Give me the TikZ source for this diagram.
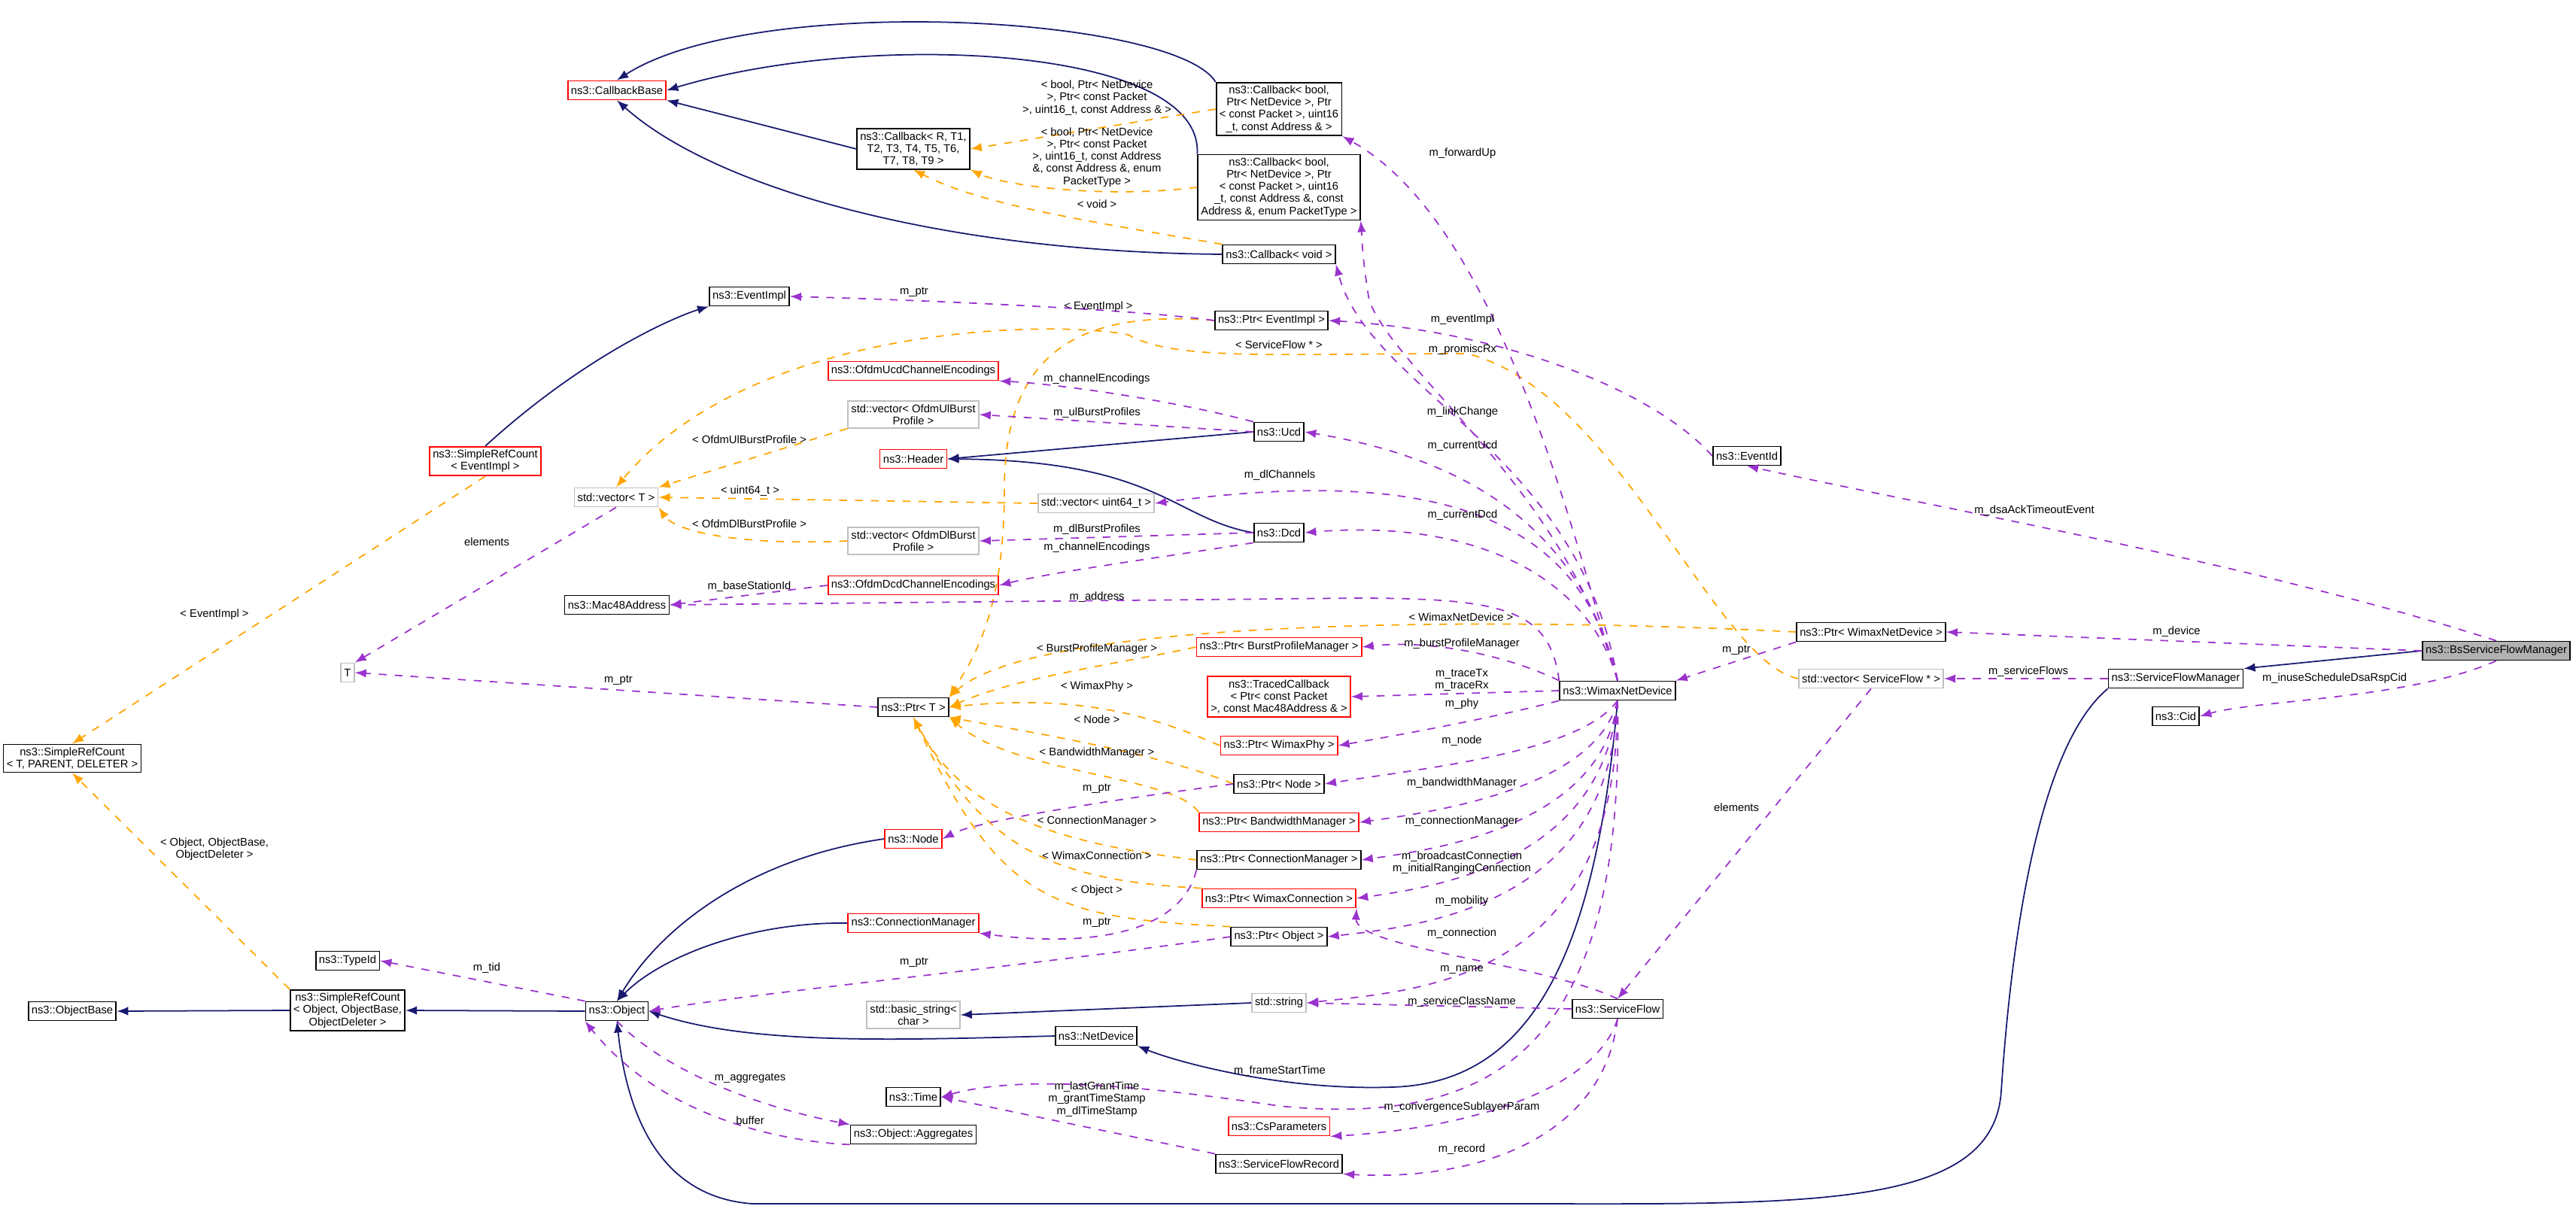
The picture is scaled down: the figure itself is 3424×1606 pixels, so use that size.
\documentclass[tikz,border=0pt]{standalone}
\usepackage{fontspec}
\setmainfont{Liberation Sans}
\usepackage{tikz}
\usetikzlibrary{calc}
\usetikzlibrary{positioning}
\usetikzlibrary{arrows}
\definecolor{inhcol}{RGB}{25,25,112}
\definecolor{usecol}{RGB}{154,50,205}
\definecolor{tplcol}{RGB}{255,165,0}
\tikzset{
  cls/.style={draw=black, fill=white, inner sep=1.2pt, minimum height=2.5mm, align=center, font=\fontsize{4.2}{4.6}\selectfont, line width=0.5pt},
  redcls/.style={cls, draw=red},
  grycls/.style={cls, draw=gray!50},
  lbl/.style={align=center, font=\fontsize{4.2}{4.6}\selectfont, inner sep=0pt},
  inh/.style={draw=inhcol, -latex, line width=0.5pt},
  mem/.style={draw=usecol, dashed, -latex, line width=0.5pt},
  tpl/.style={draw=tplcol, dashed, -latex, line width=0.5pt}
}
\begin{document}
\begin{tikzpicture}[x=0.1mm, y=-0.1mm]
		\useasboundingbox (0,0) rectangle (3424,1606);

		% classes
		\node[redcls] (cbbase) at (820,120) {ns3::CallbackBase};
		\node[cls] (cbR) at (1214,198) {ns3::Callback< R, T1,\\ T2, T3, T4, T5, T6,\\ T7, T8, T9 >};
		\node[cls] (cbaddr) at (1700,145) {ns3::Callback< bool,\\ Ptr< NetDevice >, Ptr\\ < const Packet >, uint16\\ \_t, const Address \& >};
		\node[cls] (cbpkt) at (1700,249) {ns3::Callback< bool,\\ Ptr< NetDevice >, Ptr\\ < const Packet >, uint16\\ \_t, const Address \&, const\\ Address \&, enum PacketType >};
		\node[cls] (cbvoid) at (1700,338) {ns3::Callback< void >};
		\node[cls] (evimpl) at (996,394) {ns3::EventImpl};
		\node[cls] (ptrev) at (1690,426) {ns3::Ptr< EventImpl >};
		\node[redcls] (srcev) at (645,613) {ns3::SimpleRefCount\\ < EventImpl >};
		\node[redcls] (ucdenc) at (1214,493) {ns3::OfdmUcdChannelEncodings};
		\node[grycls] (vecul) at (1214,551) {std::vector< OfdmUlBurst\\ Profile >};
		\node[cls] (ucd) at (1700,574) {ns3::Ucd};
		\node[redcls] (header) at (1214,610) {ns3::Header};
		\node[grycls] (vecT) at (819,661) {std::vector< T >};
		\node[grycls] (vecu64) at (1457,669) {std::vector< uint64\_t >};
		\node[cls] (dcd) at (1700,708) {ns3::Dcd};
		\node[grycls] (vecdl) at (1214,719) {std::vector< OfdmDlBurst\\ Profile >};
		\node[redcls] (dcdenc) at (1214,778) {ns3::OfdmDcdChannelEncodings};
		\node[cls] (eventid) at (2322,606) {ns3::EventId};
		\node[cls] (mac) at (820,804) {ns3::Mac48Address};
		\node[grycls] (T) at (462,894) {T};
		\node[cls] (srcT) at (96,1008) {ns3::SimpleRefCount\\ < T, PARENT, DELETER >};
		\node[cls] (ptrT) at (1214,940) {ns3::Ptr< T >};
		\node[redcls] (ptrbpm) at (1700,860) {ns3::Ptr< BurstProfileManager >};
		\node[redcls] (traced) at (1700,926) {ns3::TracedCallback\\ < Ptr< const Packet\\ >, const Mac48Address \& >};
		\node[cls] (wnd) at (2150,918) {ns3::WimaxNetDevice};
		\node[cls] (ptrwnd) at (2487,840) {ns3::Ptr< WimaxNetDevice >};
		\node[grycls] (vecsf) at (2487,902) {std::vector< ServiceFlow * >};
		\node[cls] (sfm) at (2892,902) {ns3::ServiceFlowManager};
		\node[cls, fill=gray!60] (bssfm) at (3318,865) {ns3::BsServiceFlowManager};
		\node[cls] (cid) at (2892,952) {ns3::Cid};
		\node[redcls] (ptrphy) at (1700,991) {ns3::Ptr< WimaxPhy >};
		\node[cls] (ptrnode) at (1700,1042) {ns3::Ptr< Node >};
		\node[redcls] (node) at (1214,1115) {ns3::Node};
		\node[redcls] (ptrbm) at (1700,1093) {ns3::Ptr< BandwidthManager >};
		\node[cls] (ptrcm) at (1700,1143) {ns3::Ptr< ConnectionManager >};
		\node[redcls] (ptrwc) at (1700,1194) {ns3::Ptr< WimaxConnection >};
		\node[redcls] (connmgr) at (1214,1227) {ns3::ConnectionManager};
		\node[cls] (ptrobj) at (1700,1245) {ns3::Ptr< Object >};
		\node[cls] (typeid) at (462,1277) {ns3::TypeId};
		\node[cls] (objbase) at (96,1344) {ns3::ObjectBase};
		\node[cls] (srcobj) at (462,1343) {ns3::SimpleRefCount\\ < Object, ObjectBase,\\ ObjectDeleter >};
		\node[cls] (object) at (820,1344) {ns3::Object};
		\node[grycls] (string) at (1700,1333) {std::string};
		\node[grycls] (bstring) at (1214,1349) {std::basic\_string<\\ char >};
		\node[cls] (sflow) at (2150,1341) {ns3::ServiceFlow};
		\node[cls] (netdev) at (1457,1377) {ns3::NetDevice};
		\node[cls] (time) at (1214,1458) {ns3::Time};
		\node[redcls] (csparam) at (1700,1497) {ns3::CsParameters};
		\node[cls] (aggr) at (1214,1508) {ns3::Object::Aggregates};
		\node[cls] (sfrec) at (1700,1547) {ns3::ServiceFlowRecord};

		% inheritance
		\draw[inh] (cbaddr.north west) .. controls (1560,20) and (1000,-10) .. (cbbase.north);
		\draw[inh] (cbpkt.north west) .. controls (1600,60) and (1150,40) .. (cbbase.east);
		\draw[inh] (cbR.west) -- (cbbase.south east);
		\draw[inh] (cbvoid.west) .. controls (1250,335) and (950,250) .. (cbbase.south);
		\draw[inh] (srcev.north) .. controls (780,470) and (900,420) .. (evimpl.south west);
		\draw[inh] (ucd.west) -- (header.east);
		\draw[inh] (dcd.west) .. controls (1560,690) and (1540,612) .. (header.east);
		\draw[inh] (srcobj.west) -- (objbase.east);
		\draw[inh] (object.west) -- (srcobj.east);
		\draw[inh] (node.west) .. controls (1000,1140) and (880,1230) .. (object.north);
		\draw[inh] (connmgr.west) .. controls (1000,1225) and (880,1270) .. (object.north);
		\draw[inh] (netdev.west) .. controls (1200,1382) and (1000,1390) .. (object.east);
		\draw[inh] (string.west) -- (bstring.east);
		\draw[inh] (wnd.south) .. controls (2120,1280) and (2030,1440) .. (1850,1445) .. controls (1700,1450) and (1560,1410) .. (netdev.south east);
		\draw[inh] (sfm.south west) .. controls (2700,1000) and (2670,1300) .. (2660,1450) .. controls (2650,1610) and (2400,1600) .. (2000,1600) -- (1000,1600) .. controls (860,1590) and (830,1450) .. (object.south);
		\draw[inh] (bssfm.west) -- (sfm.north east);

		% template instances
		\draw[tpl] (cbaddr.west) -- (cbR.east);
		\draw[tpl] (cbpkt.west) .. controls (1460,265) and (1330,245) .. (cbR.south east);
		\draw[tpl] (cbvoid.north west) .. controls (1420,290) and (1300,270) .. (cbR.south);
		\draw[tpl] (ptrev.west) .. controls (1420,410) and (1335,480) .. (1335,650) .. controls (1335,820) and (1290,880) .. (ptrT.north east);
		\draw[tpl] (vecsf.west) .. controls (2280,880) and (2150,520) .. (1950,470) .. controls (1700,470) and (1560,480) .. (1500,445) .. controls (1400,425) and (1000,430) .. (vecT.north);
		\draw[tpl] (vecul.south west) -- (vecT.north east);
		\draw[tpl] (vecu64.west) -- (vecT.east);
		\draw[tpl] (vecdl.west) .. controls (1000,725) and (900,710) .. (vecT.south east);
		\draw[tpl] (srcev.south) -- (srcT.north);
		\draw[tpl] (srcobj.north west) -- (srcT.south);
		\draw[tpl] (ptrwnd.west) .. controls (2000,820) and (1380,820) .. (ptrT.north east);
		\draw[tpl] (ptrbpm.west) .. controls (1500,880) and (1350,900) .. (ptrT.east);
		\draw[tpl] (ptrphy.west) .. controls (1550,960) and (1450,920) .. (ptrT.east);
		\draw[tpl] (ptrnode.west) .. controls (1540,1000) and (1350,970) .. (ptrT.south east);
		\draw[tpl] (ptrbm.north west) .. controls (1560,1030) and (1350,1030) .. (ptrT.south east);
		\draw[tpl] (ptrcm.west) .. controls (1400,1120) and (1280,1080) .. (ptrT.south);
		\draw[tpl] (ptrwc.north west) .. controls (1400,1170) and (1310,1130) .. (ptrT.south);
		\draw[tpl] (ptrobj.north west) .. controls (1400,1220) and (1330,1200) .. (ptrT.south);

		% members
		\draw[mem] (ptrev.west) .. controls (1500,410) and (1200,398) .. (evimpl.east);
		\draw[mem] (vecT.south) -- (T.north east);
		\draw[mem] (ptrT.west) -- (T.east);
		\draw[mem] (ucd.north west) .. controls (1550,530) and (1400,510) .. (ucdenc.south east);
		\draw[mem] (ucd.west) -- (vecul.east);
		\draw[mem] (dcd.west) -- (vecdl.east);
		\draw[mem] (dcd.south west) .. controls (1550,740) and (1400,760) .. (dcdenc.east);
		\draw[mem] (dcdenc.west) -- (mac.east);
		\draw[mem] (eventid.west) .. controls (2200,520) and (2000,440) .. (ptrev.east);
		\draw[mem] (bssfm.north) .. controls (3000,750) and (2600,680) .. (eventid.south);
		\draw[mem] (bssfm.west) -- (ptrwnd.east);
		\draw[mem] (sfm.west) -- (vecsf.east);
		\draw[mem] (bssfm.south) .. controls (3200,930) and (3000,930) .. (cid.east);
		\draw[mem] (ptrwnd.south west) -- (wnd.north east);
		\draw[mem] (vecsf.south) -- (sflow.north);
		\draw[mem] (wnd.north) .. controls (2100,750) and (2000,300) .. (cbaddr.south east);
		\draw[mem] (wnd.north) .. controls (2080,650) and (1860,500) .. (1820,400) .. controls (1810,340) and (1810,310) .. (cbpkt.south east);
		\draw[mem] (wnd.north) .. controls (2100,600) and (1820,520) .. (cbvoid.south east);
		\draw[mem] (wnd.north) .. controls (2100,700) and (1950,610) .. (ucd.east);
		\draw[mem] (wnd.north) .. controls (2100,680) and (1900,620) .. (vecu64.east);
		\draw[mem] (wnd.north) .. controls (2110,760) and (1950,690) .. (dcd.east);
		\draw[mem] (wnd.north west) .. controls (2060,810) and (2000,795) .. (1800,795) -- (mac.east);
		\draw[mem] (wnd.north west) .. controls (2000,870) and (1900,850) .. (ptrbpm.east);
		\draw[mem] (wnd.west) -- (traced.east);
		\draw[mem] (wnd.south west) .. controls (2000,950) and (1900,970) .. (ptrphy.east);
		\draw[mem] (wnd.south) .. controls (2100,1000) and (1900,1020) .. (ptrnode.east);
		\draw[mem] (wnd.south) .. controls (2120,1050) and (1900,1080) .. (ptrbm.east);
		\draw[mem] (wnd.south) .. controls (2130,1100) and (1900,1130) .. (ptrcm.east);
		\draw[mem] (wnd.south) .. controls (2130,1150) and (1900,1180) .. (ptrwc.east);
		\draw[mem] (wnd.south) .. controls (2140,1200) and (1900,1230) .. (ptrobj.east);
		\draw[mem] (wnd.south) .. controls (2150,1300) and (1900,1315) .. (string.east);
		\draw[mem] (wnd.south) .. controls (2160,1380) and (2000,1500) .. (1700,1470) .. controls (1500,1440) and (1350,1430) .. (time.east);
		\draw[mem] (ptrnode.west) .. controls (1500,1060) and (1300,1090) .. (node.east);
		\draw[mem] (ptrcm.south west) .. controls (1570,1240) and (1450,1260) .. (connmgr.south east);
		\draw[mem] (ptrobj.west) .. controls (1400,1280) and (1000,1320) .. (object.east);
		\draw[mem] (object.north west) -- (typeid.east);
		\draw[mem] (object.south) .. controls (880,1420) and (1000,1470) .. (aggr.north west);
		\draw[mem] (aggr.south west) .. controls (1100,1520) and (900,1510) .. (object.south west);
		\draw[mem] (sfrec.north west) -- (time.east);
		\draw[mem] (sflow.north) .. controls (2050,1280) and (1800,1260) .. (ptrwc.south east);
		\draw[mem] (sflow.west) -- (string.east);
		\draw[mem] (sflow.south) .. controls (2120,1450) and (1950,1500) .. (csparam.south east);
		\draw[mem] (sflow.south) .. controls (2130,1520) and (1950,1570) .. (sfrec.south east);

		% labels
		\node[lbl] (l01) at (1458,130) {< bool, Ptr< NetDevice\\ >, Ptr< const Packet\\ >, uint16\_t, const Address \& >};
		\node[lbl] (l02) at (1458,209) {< bool, Ptr< NetDevice\\ >, Ptr< const Packet\\ >, uint16\_t, const Address\\ \&, const Address \&, enum\\ PacketType >};
		\node[lbl] (l03) at (1458,271) {< void >};
		\node[lbl] (l04) at (1215,388) {m\_ptr};
		\node[lbl] (l05) at (1460,408) {< EventImpl >};
		\node[lbl] (l06) at (1700,458) {< ServiceFlow * >};
		\node[lbl] (l07) at (1944,204) {m\_forwardUp};
		\node[lbl] (l08) at (1944,425) {m\_eventImpl};
		\node[lbl] (l09) at (1944,465) {m\_promiscRx};
		\node[lbl] (l10) at (1458,504) {m\_channelEncodings};
		\node[lbl] (l11) at (1458,549) {m\_ulBurstProfiles};
		\node[lbl] (l12) at (1944,548) {m\_linkChange};
		\node[lbl] (l13) at (1944,593) {m\_currentUcd};
		\node[lbl] (l14) at (1701,632) {m\_dlChannels};
		\node[lbl] (l15) at (1944,685) {m\_currentDcd};
		\node[lbl] (l16) at (1458,704) {m\_dlBurstProfiles};
		\node[lbl] (l17) at (1458,728) {m\_channelEncodings};
		\node[lbl] (l18) at (1458,794) {m\_address};
		\node[lbl] (l19) at (996,584) {< OfdmUlBurstProfile >};
		\node[lbl] (l20) at (997,653) {< uint64\_t >};
		\node[lbl] (l21) at (996,696) {< OfdmDlBurstProfile >};
		\node[lbl] (l22) at (647,720) {elements};
		\node[lbl] (l23) at (996,780) {m\_baseStationId};
		\node[lbl] (l24) at (285,817) {< EventImpl >};
		\node[lbl] (l25) at (822,904) {m\_ptr};
		\node[lbl] (l26) at (285,1129) {< Object, ObjectBase,\\ ObjectDeleter >};
		\node[lbl] (l27) at (647,1287) {m\_tid};
		\node[lbl] (l28) at (997,1433) {m\_aggregates};
		\node[lbl] (l29) at (997,1489) {buffer};
		\node[lbl] (l30) at (1942,820) {< WimaxNetDevice >};
		\node[lbl] (l31) at (1458,863) {< BurstProfileManager >};
		\node[lbl] (l32) at (1943,856) {m\_burstProfileManager};
		\node[lbl] (l33) at (1943,904) {m\_traceTx\\ m\_traceRx};
		\node[lbl] (l34) at (1458,913) {< WimaxPhy >};
		\node[lbl] (l35) at (1943,936) {m\_phy};
		\node[lbl] (l36) at (1458,956) {< Node >};
		\node[lbl] (l37) at (1943,985) {m\_node};
		\node[lbl] (l38) at (1458,1001) {< BandwidthManager >};
		\node[lbl] (l39) at (1458,1048) {m\_ptr};
		\node[lbl] (l40) at (1943,1041) {m\_bandwidthManager};
		\node[lbl] (l41) at (1458,1092) {< ConnectionManager >};
		\node[lbl] (l42) at (1943,1092) {m\_connectionManager};
		\node[lbl] (l43) at (1458,1137) {< WimaxConnection >};
		\node[lbl] (l44) at (1943,1147) {m\_broadcastConnection\\ m\_initialRangingConnection};
		\node[lbl] (l45) at (1458,1184) {< Object >};
		\node[lbl] (l46) at (1943,1198) {m\_mobility};
		\node[lbl] (l47) at (1458,1226) {m\_ptr};
		\node[lbl] (l48) at (1215,1279) {m\_ptr};
		\node[lbl] (l49) at (1943,1241) {m\_connection};
		\node[lbl] (l50) at (1943,1289) {m\_name};
		\node[lbl] (l51) at (1943,1332) {m\_serviceClassName};
		\node[lbl] (l52) at (1701,1424) {m\_frameStartTime};
		\node[lbl] (l53) at (1458,1461) {m\_lastGrantTime\\ m\_grantTimeStamp\\ m\_dlTimeStamp};
		\node[lbl] (l54) at (1943,1472) {m\_convergenceSublayerParam};
		\node[lbl] (l55) at (1943,1528) {m\_record};
		\node[lbl] (l56) at (2308,1073) {elements};
		\node[lbl] (l57) at (2893,840) {m\_device};
		\node[lbl] (l58) at (2308,864) {m\_ptr};
		\node[lbl] (l59) at (2696,893) {m\_serviceFlows};
		\node[lbl] (l60) at (3103,902) {m\_inuseScheduleDsaRspCid};
		\node[lbl] (l61) at (2704,679) {m\_dsaAckTimeoutEvent};
    \end{tikzpicture}
\end{document}
